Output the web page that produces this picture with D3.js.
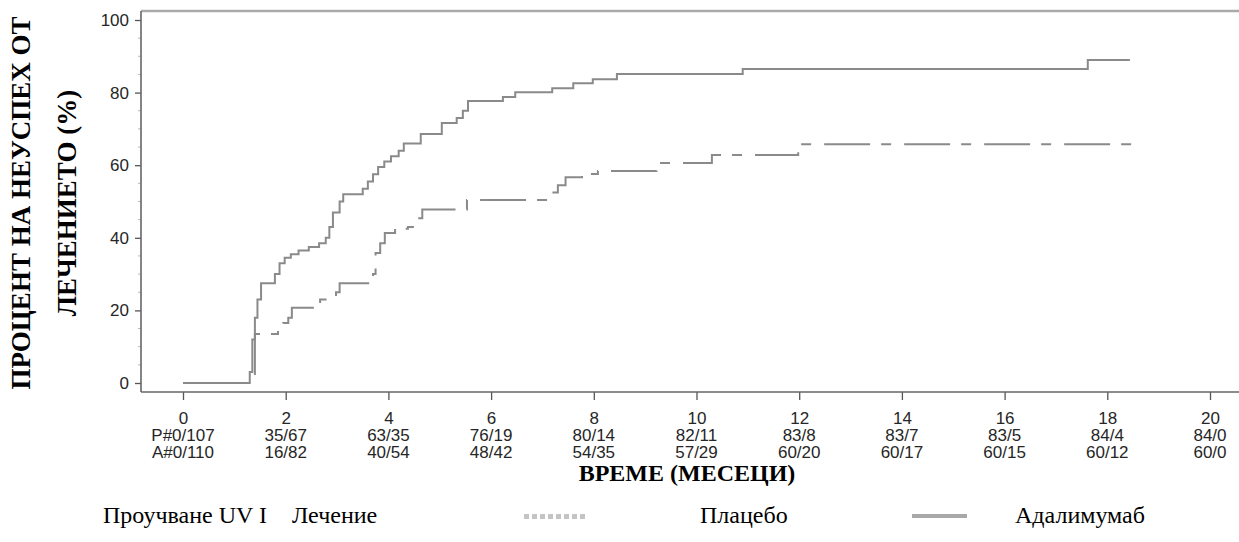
<!DOCTYPE html>
<meta charset="utf-8">
<style>
body { margin: 0; background: #fff; }
.tick text { font-family: "Liberation Sans", Arial, sans-serif; font-size: 17px; fill: #262626; }
.tick line { stroke: #555; stroke-width: 1.3px; }
.risk { font-family: "Liberation Sans", Arial, sans-serif; font-size: 17px; fill: #262626; text-anchor: middle; }
.title { font-family: "Liberation Serif", "Times New Roman", serif; font-weight: bold; fill: #000; }
.legend { font-family: "Liberation Serif", "Times New Roman", serif; font-size: 24px; fill: #000; }
</style>
<body>
<script src="https://cdn.jsdelivr.net/npm/d3@7/dist/d3.min.js"></script>
<script>

// months / cumulative % treatment failure
var adaTime = [0, 1.27, 1.3, 1.35, 1.4, 1.45, 1.52, 1.79, 1.88, 1.98, 2.1, 2.25, 2.45, 2.65, 2.78, 2.85, 2.92, 3.05, 3.12,
               3.5, 3.6, 3.7, 3.8, 3.92, 4.05, 4.2, 4.3, 4.63, 5.04, 5.33, 5.45, 5.55, 6.23, 6.47, 7.19, 7.6, 7.98, 8.45,
               10.9, 17.62, 18.44];
var adaPct  = [0, 0, 3, 12, 18, 23, 27.5, 30, 33, 34.5, 35.5, 36.5, 37.5, 38.5, 40, 43, 47, 50, 52,
               53.5, 55.5, 57.5, 59.5, 61, 62.5, 64, 66, 68.6, 71.6, 73, 75, 77.7, 78.8, 80.1, 81.2, 82.6, 83.7, 85.1,
               86.5, 89, 89];

var plaTime = [0, 1.4, 1.85, 1.95, 2.05, 2.12, 2.67, 2.98, 3.05, 3.7, 3.75, 3.84, 3.93, 4.13, 4.38, 4.56, 4.66,
               5.53, 7.19, 7.3, 7.45, 7.77, 8.08, 9.22, 10.3, 11.98, 18.7];
var plaPct  = [0, 13.5, 15, 16.5, 18, 20.7, 23, 25, 27.5, 30, 35.8, 38.5, 41.3, 42.5, 43, 45.4, 47.8,
               50.4, 52.5, 54.5, 56.7, 57.6, 58.4, 60.6, 62.8, 65.8, 65.8];

var xTicks = [0, 2, 4, 6, 8, 10, 12, 14, 16, 18, 20];
var yTicks = [0, 20, 40, 60, 80, 100];
var riskP = ["P#0/107", "35/67", "63/35", "76/19", "80/14", "82/11", "83/8", "83/7", "83/5", "84/4", "84/0"];
var riskA = ["A#0/110", "16/82", "40/54", "48/42", "54/35", "57/29", "60/20", "60/17", "60/15", "60/12", "60/0"];

var width = 1239, height = 542;

var x = d3.scaleLinear().domain([0, 20]).range([183, 1210]);
var y = d3.scaleLinear().domain([0, 100]).range([383, 20]);

var svg = d3.select("body").append("svg")
    .attr("width", width)
    .attr("height", height);

// frame: top grey line
svg.append("line")
    .attr("x1", 141).attr("x2", width).attr("y1", 11).attr("y2", 11)
    .attr("stroke", "#aaa").attr("stroke-width", 2.5);

// minor y ticks
svg.selectAll(".minor")
    .data(d3.range(5, 100, 5).filter(function(d) { return d % 20 != 0; }))
  .enter().append("line")
    .attr("x1", 138).attr("x2", 141)
    .attr("y1", function(d) { return y(d); })
    .attr("y2", function(d) { return y(d); })
    .attr("stroke", "#bbb").attr("stroke-width", 1);

var xAxis = d3.axisBottom(x).tickValues(xTicks).tickSize(8).tickPadding(12).tickFormat(d3.format("d"));
var yAxis = d3.axisLeft(y).tickValues(yTicks).tickSize(6).tickPadding(6).tickFormat(d3.format("d"));

var gx = svg.append("g")
    .attr("transform", "translate(0,392)")
    .call(xAxis);
gx.select(".domain").remove();

var gy = svg.append("g")
    .attr("transform", "translate(141,0)")
    .call(yAxis);
gy.select(".domain").remove();

svg.append("line")
    .attr("x1", 141).attr("x2", width).attr("y1", 392).attr("y2", 392)
    .attr("stroke", "#666").attr("stroke-width", 1.6);
svg.append("line")
    .attr("x1", 141).attr("x2", 141).attr("y1", 11).attr("y2", 392)
    .attr("stroke", "#666").attr("stroke-width", 1.6);

// numbers at risk
svg.selectAll(".riskP")
    .data(xTicks)
  .enter().append("text")
    .attr("class", "risk")
    .attr("x", function(d) { return x(d); })
    .attr("y", 441)
    .text(function(d, i) { return riskP[i]; });

svg.selectAll(".riskA")
    .data(xTicks)
  .enter().append("text")
    .attr("class", "risk")
    .attr("x", function(d) { return x(d); })
    .attr("y", 458)
    .text(function(d, i) { return riskA[i]; });

// curves
var line = d3.line()
    .x(function(d) { return x(d[0]); })
    .y(function(d) { return y(d[1]); })
    .curve(d3.curveStepAfter);

svg.append("path")
    .datum(plaTime.map(function(t, i) { return [t, plaPct[i]]; }))
    .attr("d", line)
    .attr("fill", "none")
    .attr("stroke", "#8a8a8a")
    .attr("stroke-width", 2)
    .attr("stroke-dasharray", "46,11,10,13");

svg.append("path")
    .datum(adaTime.map(function(t, i) { return [t, adaPct[i]]; }))
    .attr("d", line)
    .attr("fill", "none")
    .attr("stroke", "#8a8a8a")
    .attr("stroke-width", 2);

// titles
svg.append("text")
    .attr("class", "title")
    .style("font-size", "24px")
    .attr("x", 687).attr("y", 481)
    .attr("text-anchor", "middle")
    .text("ВРЕМЕ (МЕСЕЦИ)");

svg.append("text")
    .attr("class", "title")
    .style("font-size", "27px")
    .attr("transform", "translate(30,203) rotate(-90)")
    .attr("text-anchor", "middle")
    .text("ПРОЦЕНТ НА НЕУСПЕХ ОТ");

svg.append("text")
    .attr("class", "title")
    .style("font-size", "27px")
    .attr("transform", "translate(76,203) rotate(-90)")
    .attr("text-anchor", "middle")
    .text("ЛЕЧЕНИЕТО (%)");

// legend row
svg.append("text").attr("class", "legend").attr("x", 103).attr("y", 523).text("Проучване UV I");
svg.append("text").attr("class", "legend").attr("x", 292).attr("y", 523).text("Лечение");
svg.append("text").attr("class", "legend").attr("x", 700).attr("y", 523).text("Плацебо");
svg.append("text").attr("class", "legend").attr("x", 1015).attr("y", 523).text("Адалимумаб");

svg.selectAll(".dots")
    .data(d3.range(8))
  .enter().append("rect")
    .attr("x", function(d) { return 524 + d * 8; })
    .attr("y", 514)
    .attr("width", 5).attr("height", 5)
    .attr("fill", "#c4c4c4");

svg.append("rect")
    .attr("x", 912).attr("y", 514)
    .attr("width", 55).attr("height", 4)
    .attr("fill", "#a8a8a8");

</script>
